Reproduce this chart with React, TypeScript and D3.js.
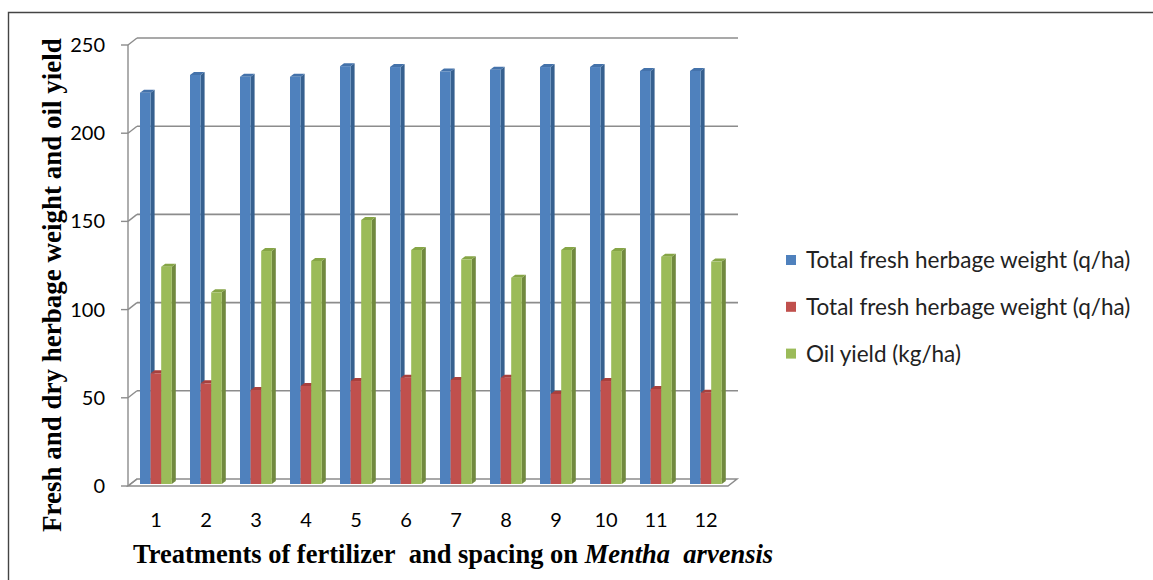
import * as d3 from "d3";
import { useEffect, useRef } from "react";

const categories = ["1", "2", "3", "4", "5", "6", "7", "8", "9", "10", "11", "12"];
const freshWeight = [223, 233, 232, 232, 238, 237.5, 235, 236, 237.5, 237.5, 235.3, 235.3];
const dryWeight = [63.9, 58.2, 54.4, 56.7, 59.5, 61.4, 60.1, 61.4, 52.2, 59.5, 55, 52.9];
const oilYield = [124.3, 109.8, 133.2, 127.6, 150.8, 133.8, 128.5, 118.1, 133.8, 133.2, 130, 127.2];
const yTicks = [0, 50, 100, 150, 200, 250];
const seriesNames = [
    "Total fresh herbage weight (q/ha)",
    "Total fresh herbage weight (q/ha)",
    "Oil yield (kg/ha)",
];

export default function App() {
    const refSvg = useRef<SVGSVGElement>(null);

    useEffect(() => {
        const svg = d3.select(refSvg.current);
        svg.selectAll("*").remove();

        // depth of the back wall and of each bar
        const DX = 9, DY = -7;
        const BDX = 4, BDY = -3;

        const X = d3.scaleBand<string>().domain(categories).range([128, 728]);
        const Y = d3.scaleLinear().domain([0, 250]).range([486, 45]);

        // ---------- frame ----------
        svg.append("path")
            .attr("d", "M8.5,600 L8.5,12.5 L1200,12.5")
            .attr("fill", "none")
            .attr("stroke", "#444")
            .attr("stroke-width", 1.4);

        // ---------- floor ----------
        const f0 = Y(0);
        svg.append("polygon")
            .attr("points", `128,${f0} 728,${f0} ${728 + DX},${f0 + DY} ${128 + DX},${f0 + DY}`)
            .attr("fill", "#fff")
            .attr("stroke", "#8c8c8c")
            .attr("stroke-width", 1.5);

        // ---------- gridlines and y axis ----------
        const grid = svg.append("g");
        yTicks.forEach(t => {
            const yf = Y(t);
            if (t > 0) {
                grid.append("line")
                    .attr("x1", 128 + DX).attr("x2", 729 + DX)
                    .attr("y1", yf + DY).attr("y2", yf + DY)
                    .attr("stroke", "#8c8c8c").attr("stroke-width", 1.6);
            }
            grid.append("line")
                .attr("x1", 128).attr("x2", 128 + DX)
                .attr("y1", yf).attr("y2", yf + DY)
                .attr("stroke", "#8c8c8c").attr("stroke-width", 1.4);
            grid.append("line")
                .attr("x1", 121).attr("x2", 128)
                .attr("y1", yf).attr("y2", yf)
                .attr("stroke", "#8c8c8c").attr("stroke-width", 1.4);
            grid.append("text")
                .text(t)
                .attr("x", 105).attr("y", yf + 7)
                .attr("text-anchor", "end")
                .attr("font-family", "Lato")
                .attr("font-size", 20)
                .attr("fill", "#000");
        });
        grid.append("line")
            .attr("x1", 128).attr("x2", 128)
            .attr("y1", Y(250)).attr("y2", Y(0))
            .attr("stroke", "#8c8c8c").attr("stroke-width", 1.4);

        // ---------- bars ----------
        const series = [
            { values: freshWeight, front: "#4f81bd", side: "#36608f", top: "#4472aa" },
            { values: dryWeight, front: "#c0504d", side: "#8f3a38", top: "#a8403d" },
            { values: oilYield, front: "#9bbb59", side: "#71893f", top: "#86a546" },
        ];
        const barW = 10.6;
        const gBars = svg.append("g");
        categories.forEach((c, ci) => {
            series.forEach((s, si) => {
                const x0 = (X(c) as number) + 12 + si * barW;
                const x1 = x0 + barW;
                const yt = Y(s.values[ci]);
                const yb = Y(0) - 2;
                gBars.append("polygon")
                    .attr("points", `${x1},${yt} ${x1 + BDX},${yt + BDY} ${x1 + BDX},${yb + BDY} ${x1},${yb}`)
                    .attr("fill", s.side);
                gBars.append("polygon")
                    .attr("points", `${x0},${yt} ${x0 + BDX},${yt + BDY} ${x1 + BDX},${yt + BDY} ${x1},${yt}`)
                    .attr("fill", s.top);
                gBars.append("rect")
                    .attr("x", x0).attr("y", yt)
                    .attr("width", barW).attr("height", yb - yt)
                    .attr("fill", s.front);
            });
        });

        // ---------- x labels ----------
        svg.append("g").selectAll("text")
            .data(categories)
            .join("text")
            .text(d => d)
            .attr("x", d => (X(d) as number) + X.bandwidth() / 2 + 3)
            .attr("y", 527)
            .attr("text-anchor", "middle")
            .attr("font-family", "Lato")
            .attr("font-size", 20)
            .attr("fill", "#000");

        // ---------- axis titles ----------
        const xt = svg.append("text")
            .attr("x", 133).attr("y", 563)
            .attr("font-family", "Liberation Serif")
            .attr("font-weight", "bold")
            .attr("font-size", 26.5)
            .attr("fill", "#000");
        xt.append("tspan").text("Treatments of fertilizer\u00a0 and spacing on ");
        xt.append("tspan").text("Mentha").attr("font-style", "italic");
        xt.append("tspan").text("\u00a0 arvensis").attr("font-style", "italic");

        svg.append("text")
            .text("Fresh and dry herbage weight and oil yield")
            .attr("transform", "translate(61,532) rotate(-90)")
            .attr("font-family", "Liberation Serif")
            .attr("font-weight", "bold")
            .attr("font-size", 27)
            .attr("fill", "#000");

        // ---------- legend ----------
        const legend = svg.append("g");
        series.forEach((s, i) => {
            const ly = 255 + i * 46.8;
            legend.append("rect")
                .attr("x", 786).attr("y", ly)
                .attr("width", 10).attr("height", 10)
                .attr("fill", s.front);
            legend.append("text")
                .text(seriesNames[i])
                .attr("x", 806).attr("y", ly + 13)
                .attr("font-family", "Lato")
                .attr("font-size", 22.5)
                .attr("fill", "#222");
        });
    }, []);

    return (
        <svg
            ref={refSvg}
            width={1153}
            height={580}
            style={{ position: "absolute", left: 0, top: 0, background: "#fff" }}
        />
    );
}
